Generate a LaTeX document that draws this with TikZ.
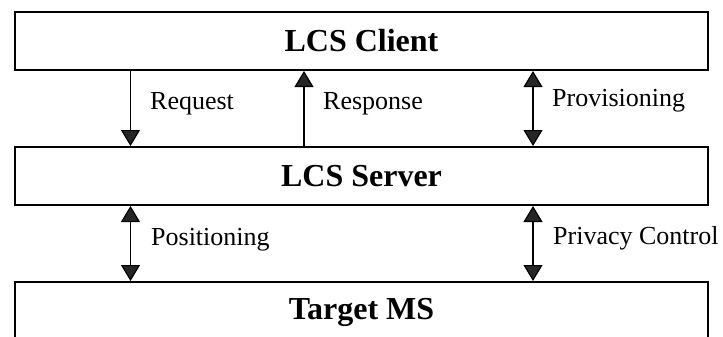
\documentclass[tikz,border=0pt]{standalone}
\usepackage{fontspec}
\setmainfont{Liberation Serif}
\usetikzlibrary{arrows.meta}

\tikzset{
  layerbox/.style={draw=black, line width=2pt, fill=white, minimum width=693pt,
    minimum height=58pt, inner sep=0pt, font=\fontsize{32}{36}\selectfont\bfseries},
  flowlabel/.style={anchor=west, inner sep=0pt, font=\fontsize{26}{30}\selectfont},
  flow/.style={line width=1.2pt, draw=black},
  ftri/.tip={Triangle[width=19pt, length=16pt, fill=black!85]},
}

\begin{document}
\begin{tikzpicture}[x=1pt, y=-1pt]
  \useasboundingbox (0,0) rectangle (723,337);
  \clip (0,0) rectangle (723,337);
  \fill[white] (0,0) rectangle (723,337);

  % the three layers
  \node[layerbox] (client) at (361.5,41) {LCS Client};
  \node[layerbox] (server) at (361.5,176) {LCS Server};
  \node[layerbox, minimum height=60pt] (target) at (361.5,312) {Target MS};

  % columns of the connectors
  \coordinate (colA) at (130.5,0);
  \coordinate (colB) at (304,0);
  \coordinate (colC) at (533,0);

  % client <-> server
  \draw[flow, -ftri] (client.south -| colA) -- (server.north -| colA);
  \draw[flow, -ftri] (server.north -| colB) -- (client.south -| colB);
  \draw[flow, ftri-ftri] (client.south -| colC) -- (server.north -| colC);

  % server <-> target
  \draw[flow, ftri-ftri] (server.south -| colA) -- (target.north -| colA);
  \draw[flow, ftri-ftri] (server.south -| colC) -- (target.north -| colC);

  % connector labels
  \node[flowlabel] (lreq)  at (150,104) {Request};
  \node[flowlabel] (lresp) at (323,104) {Response};
  \node[flowlabel] (lprov) at (552,101) {Provisioning};
  \node[flowlabel] (lpos)  at (151,240) {Positioning};
  \node[flowlabel] (lpriv) at (553,238) {Privacy Control};
\end{tikzpicture}
\end{document}
